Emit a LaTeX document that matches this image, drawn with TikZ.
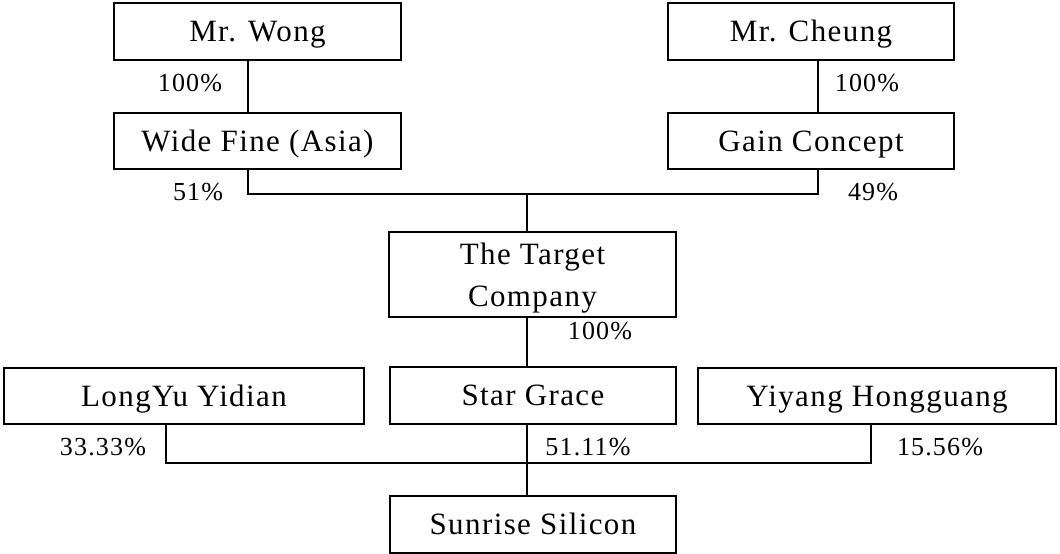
\documentclass[tikz,border=0pt]{standalone}
\usepackage{fontspec}
\setmainfont{Liberation Serif}[LetterSpace=4.5]
\begin{document}
\begin{tikzpicture}[x=1pt,y=-1pt,
  box/.style={draw,line width=2pt,inner sep=0pt,font=\fontsize{31}{42}\selectfont,align=center},
  one/.style={text height=20.5pt,text depth=0pt},
  pct/.style={inner sep=0pt,font=\fontsize{26}{30}\selectfont},
  conn/.style={line width=2pt}]
\useasboundingbox (0,0) rectangle (1060,554);
% boxes
\node[box,one,minimum width=287pt,minimum height=57pt] (wong) at (257.5,31.5) {Mr. Wong};
\node[box,one,minimum width=286pt,minimum height=57pt] (cheung) at (811,31.5) {Mr. Cheung};
\node[box,one,minimum width=287pt,minimum height=56pt] (wide) at (257.5,141) {Wide Fine (Asia)};
\node[box,one,minimum width=286pt,minimum height=56pt] (gain) at (811,141) {Gain Concept};
\node[box,text depth=0pt,minimum width=287pt,minimum height=85pt] (target) at (532.5,274.5) {The Target\\Company};
\node[box,one,minimum width=360pt,minimum height=56pt] (longyu) at (184,396) {LongYu Yidian};
\node[box,one,minimum width=286pt,minimum height=57pt] (star) at (533,395.5) {Star Grace};
\node[box,one,minimum width=358pt,minimum height=56pt] (yiyang) at (877,396) {Yiyang Hongguang};
\node[box,one,minimum width=286pt,minimum height=57pt] (sunrise) at (533,524.5) {Sunrise Silicon};
% junction coordinates
\coordinate (xw) at (248,0);
\coordinate (xc) at (818,0);
\coordinate (xt) at (527,0);
\coordinate (xl) at (166,0);
\coordinate (xy) at (871,0);
\coordinate (j1) at (0,193.5);
\coordinate (j2) at (0,463);
% connectors
\draw[conn] (wong.south -| xw) -- (wide.north -| xw);
\draw[conn] (cheung.south -| xc) -- (gain.north -| xc);
\draw[conn] (wide.south -| xw) -- (j1 -| xw) -- (j1 -| xc) -- (gain.south -| xc);
\draw[conn] (j1 -| xt) -- (target.north -| xt);
\draw[conn] (target.south -| xt) -- (star.north -| xt);
\draw[conn] (longyu.south -| xl) -- (j2 -| xl) -- (j2 -| xy) -- (yiyang.south -| xy);
\draw[conn] (star.south -| xt) -- (sunrise.north -| xt);
% percentages
\node[pct] (p1) at (190,83) {100\%};
\node[pct] (p2) at (867,83) {100\%};
\node[pct] (p3) at (198,192) {51\%};
\node[pct] (p4) at (873,192) {49\%};
\node[pct] (p5) at (600,331) {100\%};
\node[pct] (p6) at (103,447) {33.33\%};
\node[pct] (p7) at (588,447) {51.11\%};
\node[pct] (p8) at (940,447) {15.56\%};
\end{tikzpicture}
\end{document}
